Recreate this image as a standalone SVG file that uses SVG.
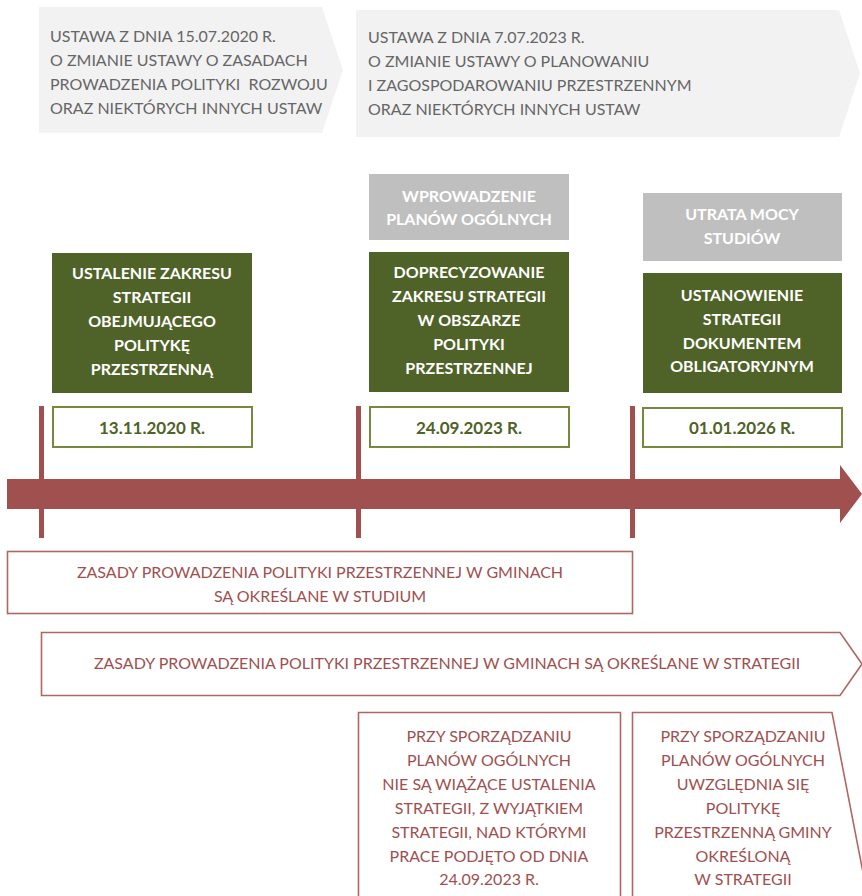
<svg xmlns="http://www.w3.org/2000/svg" width="862" height="896" viewBox="0 0 862 896">
<style>
.law{fill:#f2f2f2}
.lawt{font-family:Lato,"Liberation Sans",sans-serif;font-size:16px;fill:#666}
.green{fill:#4f6228}
.gray{fill:#bfbfbf}
.bt{font-family:Lato,"Liberation Sans",sans-serif;font-size:16px;font-weight:bold;fill:#fff;text-anchor:middle}
.date{fill:#fff;stroke:#77893f;stroke-width:2}
.dt{font-family:Lato,"Liberation Sans",sans-serif;font-size:17px;font-weight:bold;fill:#4f6228;text-anchor:middle}
.tl{fill:#a0504f}
.rb{fill:#fff;stroke:#b06664;stroke-width:1.6}
.rt{font-family:Lato,"Liberation Sans",sans-serif;font-size:16px;fill:#a0504f;text-anchor:middle}
</style>
<g id="law1">
<polygon class="law" points="39,7 322,7 343,70 322,133 39,133"/>
<text class="lawt" x="50" y="42">USTAWA Z DNIA 15.07.2020 R.</text>
<text class="lawt" x="50" y="66">O ZMIANIE USTAWY O ZASADACH</text>
<text class="lawt" x="50" y="90" xml:space="preserve">PROWADZENIA POLITYKI  ROZWOJU</text>
<text class="lawt" x="50" y="114">ORAZ NIEKTÓRYCH INNYCH USTAW</text>
</g>
<g id="law2">
<polygon class="law" points="356,10 839,10 860,73 839,137 356,137"/>
<text class="lawt" x="368" y="43">USTAWA Z DNIA 7.07.2023 R.</text>
<text class="lawt" x="368" y="67">O ZMIANIE USTAWY O PLANOWANIU</text>
<text class="lawt" x="368" y="91">I ZAGOSPODAROWANIU PRZESTRZENNYM</text>
<text class="lawt" x="368" y="115">ORAZ NIEKTÓRYCH INNYCH USTAW</text>
</g>
<g id="timeline">
<rect class="tl" x="39" y="406" width="5" height="132"/>
<rect class="tl" x="356" y="406" width="5" height="132"/>
<rect class="tl" x="630" y="406" width="5" height="132"/>
<polygon class="tl" points="7,479 840,479 840,465 862,494 840,523 840,509 7,509"/>
</g>
<g id="event1">
<rect class="green" x="52" y="253" width="200" height="140"/>
<text class="bt" x="152" y="279">USTALENIE ZAKRESU</text>
<text class="bt" x="152" y="303">STRATEGII</text>
<text class="bt" x="152" y="327">OBEJMUJĄCEGO</text>
<text class="bt" x="152" y="351">POLITYKĘ</text>
<text class="bt" x="152" y="375">PRZESTRZENNĄ</text>
</g>
<g id="date1">
<rect class="date" x="53" y="407" width="199" height="40"/>
<text class="dt" x="152" y="434">13.11.2020 R.</text>
</g>
<g id="plans">
<rect class="gray" x="369" y="174" width="200" height="66"/>
<text class="bt" x="469" y="202">WPROWADZENIE</text>
<text class="bt" x="469" y="225">PLANÓW OGÓLNYCH</text>
</g>
<g id="event2">
<rect class="green" x="369" y="252" width="200" height="140"/>
<text class="bt" x="469" y="278">DOPRECYZOWANIE</text>
<text class="bt" x="469" y="302">ZAKRESU STRATEGII</text>
<text class="bt" x="469" y="326">W OBSZARZE</text>
<text class="bt" x="469" y="350">POLITYKI</text>
<text class="bt" x="469" y="374">PRZESTRZENNEJ</text>
</g>
<g id="date2">
<rect class="date" x="370" y="407" width="199" height="40"/>
<text class="dt" x="469" y="434">24.09.2023 R.</text>
</g>
<g id="studia">
<rect class="gray" x="643" y="193" width="199" height="68"/>
<text class="bt" x="742" y="220">UTRATA MOCY</text>
<text class="bt" x="742" y="244">STUDIÓW</text>
</g>
<g id="event3">
<rect class="green" x="643" y="273" width="199" height="120"/>
<text class="bt" x="742" y="301">USTANOWIENIE</text>
<text class="bt" x="742" y="325">STRATEGII</text>
<text class="bt" x="742" y="349">DOKUMENTEM</text>
<text class="bt" x="742" y="372">OBLIGATORYJNYM</text>
</g>
<g id="date3">
<rect class="date" x="643" y="408" width="199" height="39"/>
<text class="dt" x="742" y="434">01.01.2026 R.</text>
</g>
<g id="studium">
<rect class="rb" x="7.5" y="551.5" width="625" height="62"/>
<text class="rt" x="320" y="578">ZASADY PROWADZENIA POLITYKI PRZESTRZENNEJ W GMINACH</text>
<text class="rt" x="320" y="602">SĄ OKREŚLANE W STUDIUM</text>
</g>
<g id="strategia">
<polygon class="rb" points="41.5,632.5 840,632.5 862,664 840,695.5 41.5,695.5"/>
<text class="rt" x="447" y="669">ZASADY PROWADZENIA POLITYKI PRZESTRZENNEJ W GMINACH SĄ OKREŚLANE W STRATEGII</text>
</g>
<g id="note1">
<polyline class="rb" points="358.5,900 358.5,712.5 620.5,712.5 620.5,900"/>
<text class="rt" x="489" y="742">PRZY SPORZĄDZANIU</text>
<text class="rt" x="489" y="766">PLANÓW OGÓLNYCH</text>
<text class="rt" x="489" y="790">NIE SĄ WIĄŻĄCE USTALENIA</text>
<text class="rt" x="489" y="814">STRATEGII, Z WYJĄTKIEM</text>
<text class="rt" x="489" y="838">STRATEGII, NAD KTÓRYMI</text>
<text class="rt" x="489" y="862">PRACE PODJĘTO OD DNIA</text>
<text class="rt" x="489" y="885">24.09.2023 R.</text>
</g>
<g id="note2">
<polyline class="rb" points="632.5,900 632.5,712.5 832,712.5 866,888"/>
<text class="rt" x="743" y="742">PRZY SPORZĄDZANIU</text>
<text class="rt" x="743" y="766">PLANÓW OGÓLNYCH</text>
<text class="rt" x="743" y="790">UWZGLĘDNIA SIĘ</text>
<text class="rt" x="743" y="814">POLITYKĘ</text>
<text class="rt" x="743" y="838">PRZESTRZENNĄ GMINY</text>
<text class="rt" x="743" y="862">OKREŚLONĄ</text>
<text class="rt" x="743" y="885">W STRATEGII</text>
</g>
</svg>
